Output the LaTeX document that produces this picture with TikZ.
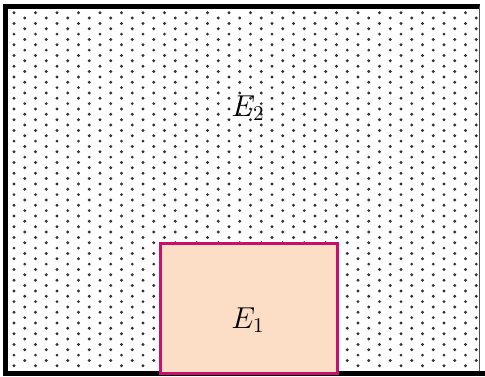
\documentclass[tikz,border=0pt]{standalone}
\usepackage{graphicx}
\definecolor{dotgray}{HTML}{303030}
\definecolor{peach}{HTML}{FCDDC6}
\definecolor{magentaedge}{HTML}{C8106A}
\tikzset{
  dotmark/.style={fill=dotgray},
  lbl/.style={font=\Large, inner sep=0pt},
  regionbox/.style={draw=magentaedge, line width=3pt, fill=peach}
}
\begin{document}
\begin{tikzpicture}[x=1pt,y=-1pt]
\useasboundingbox (0,0) rectangle (485,376);
\fill[white] (0,0) rectangle (485,376);
% dot pattern
\foreach \k in {0,...,43}{
  \pgfmathsetmacro{\xx}{14+10.75*\k}
  \pgfmathsetmacro{\yo}{mod(\k,2)==0 ? 12.7 : 18.0}
  \foreach \j in {0,...,33}{
    \pgfmathsetmacro{\yy}{\yo+10.7*\j}
    \pgfmathparse{\yy<369 ? 1 : 0}
    \ifnum\pgfmathresult=1
      \fill[dotmark] (\xx,\yy) circle (1.6);
    \fi
  }
}
% outer frame
\draw[black, line width=5pt] (5.5,373.5) -- (5.5,6) -- (480,6);
\draw[black, line width=5pt] (3,373.5) -- (485,373.5);
\draw[black!70, line width=1pt] (479.5,6) -- (479.5,371);
% E1 region
\node[regionbox, minimum width=177pt, minimum height=130pt, inner sep=0pt, anchor=north west] (e1box) at (158.5,242) {};
\node[lbl] (e1) at (248,320) {\scalebox{2.1}{$E_1$}};
\node[lbl] (e2) at (248,108) {\scalebox{2.1}{$E_2$}};
\end{tikzpicture}
\end{document}
